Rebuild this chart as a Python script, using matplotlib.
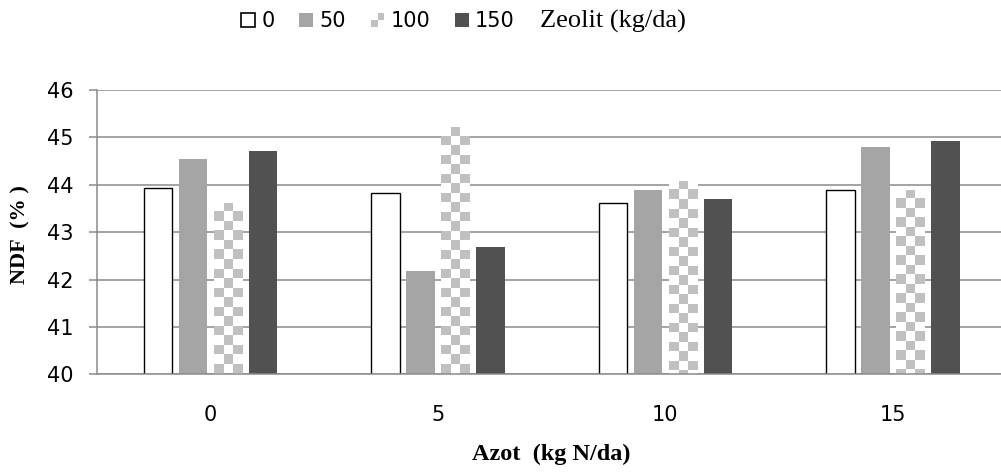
import numpy as np
import matplotlib
matplotlib.use('Agg')
import matplotlib.pyplot as plt
from matplotlib.patches import Rectangle, Patch
from matplotlib.colors import ListedColormap
from matplotlib.legend_handler import HandlerBase

# Veriler (grafikten okunan NDF %)
azot = ['0', '5', '10', '15']
zeolit = ['0', '50', '100', '150']
ndf_0 = [43.94, 43.82, 43.61, 43.90]
ndf_50 = [44.54, 42.18, 43.90, 44.80]
ndf_100 = [43.62, 45.21, 44.08, 43.90]
ndf_150 = [44.71, 42.69, 43.70, 44.92]

y_min = 40
grid_c = '#8a8a8a'
chk_c = '#c0c0c0'
gray_c = '#a5a5a5'
dark_c = '#515151'


class CheckerHandler(HandlerBase):
    # legend icin kucuk dama deseni
    def create_artists(self, legend, orig_handle, xdescent, ydescent,
                       width, height, fontsize, trans):
        arts = []
        hw, hh = width / 2, height / 2
        for i in range(2):
            for j in range(2):
                fc = chk_c if (i + j) % 2 == 0 else 'white'
                arts.append(Rectangle((-xdescent + j * hw, -ydescent + i * hh), hw, hh,
                                      facecolor=fc, edgecolor='none', transform=trans))
        return arts


fig = plt.figure(figsize=(10.01, 4.72), dpi=100)
ax = fig.add_axes([0.0966, 0.2066, 0.909, 0.6027])

x = np.arange(len(azot))
w = 0.125
step = 0.154

# barlar eksenin basladigi 40'tan cizilir
ax.bar(x - 1.5 * step, np.array(ndf_0) - y_min, w, bottom=y_min,
       color='white', edgecolor='black', linewidth=1.0, zorder=2)
ax.bar(x - 0.5 * step, np.array(ndf_50) - y_min, w, bottom=y_min, color=gray_c, zorder=2)
chk_bars = ax.bar(x + 0.5 * step, np.array(ndf_100) - y_min, w, bottom=y_min,
                  color='white', zorder=2)
ax.bar(x + 1.5 * step, np.array(ndf_150) - y_min, w, bottom=y_min, color=dark_c, zorder=2)

# dama desenli barlar
cell = 0.2
cmap = ListedColormap(['white', chk_c])
for b in chk_bars:
    x0 = b.get_x()
    top = b.get_y() + b.get_height()
    nrow = int(np.ceil(b.get_height() / cell))
    pat = np.add.outer(np.arange(nrow), np.arange(3)) % 2
    im = ax.imshow(pat, cmap=cmap, vmin=0, vmax=1,
                   extent=(x0, x0 + w, top - nrow * cell, top),
                   origin='upper', interpolation='nearest', aspect='auto', zorder=2.5)
    im.set_clip_path(b)

ax.set_xlim(-0.5, 3.5)
ax.set_ylim(y_min, 46)
ax.set_yticks(range(40, 47))
ax.set_xticks(x)
ax.set_xticklabels(azot)

ax.set_axisbelow(True)
ax.yaxis.grid(True, color=grid_c, linewidth=1.1)
for s in ['top', 'right']:
    ax.spines[s].set_visible(False)
for s in ['left', 'bottom']:
    ax.spines[s].set_color(grid_c)
    ax.spines[s].set_linewidth(1.1)
ax.tick_params(axis='y', length=5.8, width=1.1, color=grid_c, pad=11, labelsize=15)
ax.tick_params(axis='x', length=0, pad=22, labelsize=15)

fig.text(20 / 1001, 1 - 235 / 472, 'NDF  (% )', rotation=90, ha='center', va='center',
         family='Liberation Serif', weight='bold', fontsize=16)
fig.text(551 / 1001, 1 - 454 / 472, 'Azot  (kg N/da)', ha='center', va='center',
         family='Liberation Serif', weight='bold', fontsize=17.5)

# legend
chk_handle = Patch(facecolor=chk_c)
handles = [Patch(facecolor='white', edgecolor='black', linewidth=1.2),
           Patch(facecolor=gray_c), chk_handle, Patch(facecolor=dark_c)]
fig.legend(handles, zeolit, loc='center left', bbox_to_anchor=(231 / 1001, 1 - 21 / 472),
           ncol=4, frameon=False, fontsize=15, handlelength=0.65, handleheight=0.65,
           handletextpad=0.3, columnspacing=1.2, borderpad=0,
           handler_map={chk_handle: CheckerHandler()})
fig.text(540 / 1001, 1 - 21 / 472, 'Zeolit (kg/da)', va='center',
         family='Liberation Serif', fontsize=19)

fig.savefig('out.png', dpi=100)
